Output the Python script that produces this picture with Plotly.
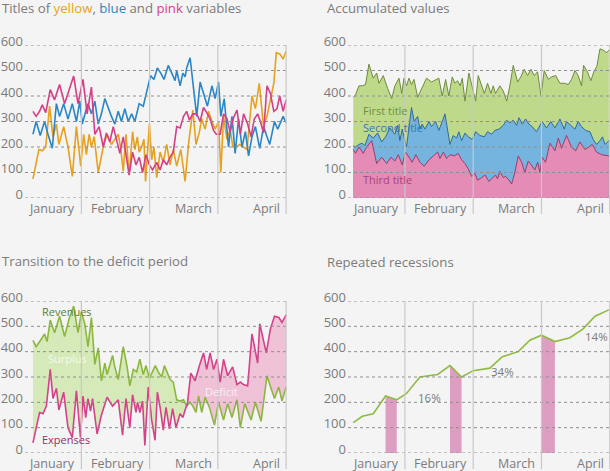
import numpy as np
import plotly.graph_objects as go

# ---------------- data ----------------
month_names = ["January", "February", "March", "April"]
month_ends = [30, 60, 90, 120]
y_ticks = [0, 100, 200, 300, 400, 500, 600]

# Chart 1: yellow, blue, pink variables (day, value)
yellow_days = [8.7, 11.3, 12.8, 14.3, 16.0, 17.5, 19.0, 20.1, 22.2, 24.1, 26.0, 27.8, 29.7, 31.0, 32.2, 33.4, 34.4, 35.6, 37.4, 39.6,
               41.3, 43.2, 44.7, 46.2, 47.2, 48.4, 49.6, 51.0, 52.5, 53.5, 54.6, 55.4, 56.5, 57.5, 58.2, 59.9, 60.9, 61.9, 63.1, 64.6,
               66.0, 67.5, 69.0, 70.4, 71.9, 73.7, 75.6, 77.2, 79.0, 80.4, 81.9, 82.9, 84.4, 85.9, 87.4, 88.8, 90.3, 91.3, 92.5, 94.0,
               95.4, 96.6, 98.1, 99.6, 101.3, 102.8, 105.0, 106.5, 108.2, 110.1, 111.6, 113.1, 114.6, 115.7, 117.2, 118.7, 120.0]
yellow_vals = [75, 190, 185, 200, 360, 240, 290, 210, 280, 200, 85, 280, 125, 250, 170, 250, 200, 240, 100, 200,
               250, 210, 230, 250, 200, 105, 250, 90, 260, 190, 240, 180, 200, 230, 65, 290, 150, 200, 80, 180,
               140, 210, 130, 190, 125, 190, 65, 220, 345, 210, 260, 310, 270, 340, 300, 270, 300, 100, 320, 230,
               270, 200, 200, 210, 200, 190, 400, 350, 450, 280, 320, 380, 450, 570, 565, 545, 575]
blue_days = [8.7, 10.1, 11.9, 13.8, 15.3, 17.2, 19.0, 20.4, 22.2, 24.1, 26.0, 27.8, 29.3, 30.4, 31.9, 32.9, 34.4, 35.9, 37.4, 38.8,
             40.3, 41.8, 43.2, 44.7, 46.2, 47.6, 49.1, 50.6, 52.1, 53.5, 55.4, 57.2, 58.7, 60.4, 61.9, 63.4, 64.9, 66.3, 68.2, 69.7,
             71.2, 71.9, 73.4, 74.6, 75.6, 76.3, 77.8, 79.3, 80.7, 82.2, 84.0, 85.4, 87.4, 88.8, 90.3, 91.3, 92.8, 94.7, 96.2, 97.6,
             99.1, 100.6, 102.1, 103.5, 105.0, 106.5, 108.4, 110.1, 111.6, 112.8, 114.9, 116.3, 118.7, 120.0]
blue_vals = [250, 300, 245, 300, 250, 195, 370, 320, 370, 310, 370, 300, 380, 290, 340, 370, 330, 380, 290, 330,
             390, 350, 320, 290, 340, 300, 350, 300, 330, 300, 370, 360, 420, 480, 465, 510, 490, 465, 520, 490,
             460, 500, 440, 490, 475, 510, 550, 430, 320, 455, 400, 360, 440, 390, 455, 320, 390, 200, 320, 175,
             310, 200, 260, 165, 240, 280, 195, 280, 240, 210, 300, 270, 320, 295]
pink_days = [8.7, 10.1, 11.6, 12.8, 14.3, 16.3, 18.2, 20.4, 22.6, 24.6, 26.6, 28.5, 30.7, 32.5, 34.4, 35.9, 37.8, 39.6, 41.0, 42.5,
             44.0, 45.4, 46.9, 48.4, 49.9, 51.0, 52.5, 54.0, 55.4, 56.9, 58.4, 59.9, 61.3, 63.1, 64.6, 66.0, 67.5, 69.0, 70.4, 71.9,
             73.4, 74.9, 76.3, 77.5, 79.0, 80.7, 82.2, 83.7, 85.1, 86.6, 88.1, 89.3, 91.0, 92.5, 94.0, 95.4, 96.9, 98.4, 99.9, 101.3,
             103.1, 104.6, 106.0, 107.5, 108.7, 110.1, 111.6, 113.1, 114.6, 116.0, 117.2, 118.7, 120.0]
pink_vals = [340, 320, 340, 365, 335, 425, 385, 445, 370, 420, 478, 370, 465, 330, 435, 250, 280, 200, 255, 220,
             280, 230, 175, 240, 160, 90, 180, 130, 160, 100, 170, 130, 110, 140, 110, 150, 130, 160, 180, 280,
             275, 320, 340, 305, 330, 330, 300, 355, 335, 310, 265, 250, 250, 330, 310, 260, 315, 345, 250, 330,
             290, 240, 310, 330, 300, 255, 440, 410, 340, 350, 400, 340, 385]

# Chart 2: accumulated values (cumulative totals)
first_days = [7.3, 8.3, 9.8, 11.3, 12.7, 14.2, 16.1, 17.6, 18.6, 20.5, 22.4, 24.2, 25.6, 27.4, 28.6, 29.6, 30.7, 31.8, 32.9, 34.0,
              35.6, 37.3, 39.5, 41.7, 43.5, 44.9, 46.4, 47.9, 49.3, 50.8, 52.0, 53.1, 54.3, 55.2, 56.4, 58.1, 60.0, 61.1, 62.2, 63.7,
              64.9, 66.3, 67.8, 68.8, 69.8, 71.7, 73.2, 74.7, 76.1, 77.6, 79.5, 80.9, 82.4, 83.9, 85.4, 86.8, 88.3, 89.8, 91.2, 93.0,
              94.4, 96.2, 98.1, 100.0, 101.8, 103.2, 104.7, 106.1, 107.6, 108.5, 110.2, 111.7, 113.2, 114.3, 115.7, 117.1, 118.6, 119.6]
first_total = [395, 405, 440, 440, 445, 525, 470, 490, 450, 480, 430, 390, 440, 470, 410, 470, 440, 470, 445, 465,
               395, 430, 470, 455, 465, 470, 400, 465, 400, 475, 450, 460, 440, 470, 380, 490, 420, 380, 480, 445,
               410, 450, 410, 440, 410, 440, 420, 380, 440, 520, 455, 475, 505, 480, 505, 480, 495, 400, 500, 465,
               475, 480, 450, 450, 445, 465, 500, 480, 440, 520, 495, 460, 500, 515, 585, 580, 570, 580]
second_days = [7.3, 8.3, 9.8, 11.3, 12.4, 14.2, 16.1, 18.0, 19.8, 21.5, 23.4, 25.6, 26.8, 27.8, 28.8, 30.7, 32.9, 34.1, 35.6, 36.6,
               37.6, 38.8, 40.6, 41.7, 43.5, 44.9, 46.4, 47.6, 49.8, 51.2, 52.7, 53.7, 54.9, 56.4, 57.8, 59.6, 61.1, 63.0, 64.9, 66.3,
               68.1, 69.5, 71.3, 73.2, 74.7, 76.1, 77.6, 79.1, 80.1, 81.6, 83.0, 84.5, 85.9, 87.8, 90.3, 92.2, 94.1, 95.9, 98.1, 100.0,
               101.0, 102.9, 104.7, 106.1, 107.6, 109.4, 111.3, 112.7, 114.2, 115.7, 116.8, 117.9, 119.6]
second_total = [205, 200, 210, 215, 205, 250, 235, 255, 220, 240, 275, 250, 285, 225, 270, 200, 355, 300, 320, 270,
                290, 270, 300, 280, 300, 265, 300, 330, 210, 245, 235, 260, 225, 255, 240, 230, 260, 245, 240, 260,
                250, 265, 270, 285, 305, 295, 305, 285, 315, 290, 310, 290, 280, 260, 300, 275, 300, 275, 310, 270,
                300, 285, 270, 300, 280, 265, 260, 230, 210, 225, 240, 210, 225]
third_days = [7.3, 8.3, 9.8, 11.7, 13.2, 15.4, 17.6, 19.8, 22.0, 23.9, 25.6, 27.1, 28.8, 30.3, 31.8, 33.2, 34.8, 36.6, 38.5, 40.6,
              42.5, 44.4, 45.4, 46.9, 48.3, 49.8, 51.7, 53.4, 54.9, 56.4, 57.8, 59.3, 60.8, 61.9, 63.7, 65.2, 66.9, 68.4, 69.8, 70.7,
              71.7, 73.2, 74.2, 75.7, 76.9, 78.3, 79.8, 81.3, 82.7, 84.2, 85.7, 87.1, 88.3, 89.3, 90.3, 91.8, 93.7, 94.7, 95.9, 97.4,
              98.8, 101.0, 103.2, 105.0, 106.9, 109.1, 110.8, 112.3, 114.2, 116.4, 119.6]
third_total = [190, 175, 200, 175, 200, 225, 135, 160, 135, 160, 145, 170, 130, 180, 160, 140, 170, 140, 125, 150,
               165, 180, 155, 180, 155, 170, 165, 175, 150, 135, 115, 85, 95, 70, 80, 90, 65, 80, 90, 75,
               105, 80, 85, 70, 55, 100, 165, 140, 100, 145, 125, 110, 140, 100, 160, 140, 215, 200, 185, 235,
               195, 245, 200, 185, 220, 190, 200, 210, 180, 170, 165]
stack_names = ["First title", "Second title", "Third title"]

# Chart 3: revenues vs expenses
rev_days = [8.7, 10.1, 12.4, 13.8, 14.9, 16.3, 18.2, 20.4, 22.6, 24.6, 26.6, 28.5, 30.0, 31.5, 32.9, 34.4, 35.9, 37.4, 38.8, 40.3,
            41.3, 43.7, 44.7, 46.2, 48.4, 50.1, 51.3, 52.8, 54.3, 55.7, 57.2, 58.4, 59.9, 61.3, 62.5, 63.8, 65.3, 66.5, 67.9, 69.0,
            70.4, 71.9, 73.4, 74.9, 76.3, 77.8, 79.0, 80.4, 81.5, 82.9, 84.4, 86.3, 88.5, 90.3, 92.5, 94.3, 96.2, 98.4, 99.9, 101.8,
            104.6, 106.5, 109.0, 111.6, 113.4, 114.9, 116.8, 118.2, 120.0]
rev_vals = [445, 420, 450, 470, 440, 525, 475, 540, 460, 530, 580, 475, 555, 510, 420, 535, 350, 415, 285, 355,
            310, 385, 340, 290, 420, 340, 265, 330, 320, 370, 310, 345, 295, 325, 345, 320, 300, 345, 310, 290,
            280, 210, 205, 210, 185, 200, 185, 160, 225, 160, 220, 180, 110, 200, 130, 195, 140, 210, 100, 195,
            130, 200, 125, 305, 255, 215, 260, 205, 260]
exp_days = [8.7, 10.1, 11.6, 13.1, 14.6, 16.3, 17.5, 19.0, 20.1, 22.2, 24.1, 26.0, 27.8, 29.6, 30.7, 31.9, 32.9, 34.0, 34.9, 36.9,
            38.8, 41.3, 43.7, 46.2, 48.1, 49.6, 51.3, 52.5, 54.0, 54.7, 55.7, 56.9, 57.9, 59.4, 60.9, 62.4, 63.4, 64.6, 66.0, 67.2,
            68.7, 70.1, 71.6, 73.4, 74.6, 75.6, 76.6, 78.1, 80.0, 81.9, 83.7, 85.1, 86.6, 88.1, 89.6, 91.0, 92.5, 94.3, 96.5, 98.4,
            99.9, 101.3, 103.1, 105.0, 107.5, 108.4, 111.3, 113.1, 114.9, 116.8, 118.2, 120.0]
exp_vals = [40, 100, 160, 155, 185, 330, 215, 255, 170, 240, 100, 60, 245, 60, 225, 140, 215, 165, 215, 75,
            150, 220, 185, 210, 70, 215, 100, 230, 160, 200, 160, 205, 30, 260, 130, 50, 240, 180, 90, 180,
            95, 175, 100, 155, 140, 170, 195, 315, 285, 345, 395, 330, 395, 330, 370, 280, 370, 305, 340, 270,
            280, 270, 265, 470, 355, 510, 395, 490, 540, 535, 515, 545]

# Chart 4: repeated recessions
trend_days = [7.3, 11.3, 16.1, 21.5, 26.4, 30.7, 36.6, 44.4, 49.8, 54.9, 60.0, 67.3, 72.8, 79.8, 84.9, 90.0, 95.9, 102.5, 108.3, 113.5, 119.6]
trend_vals = [120, 145, 155, 225, 210, 235, 300, 310, 345, 300, 325, 335, 380, 400, 445, 465, 440, 455, 490, 540, 565]
recession_idx = [(3, 4), (8, 9), (15, 16)]
pct_labels = ["16%", "34%", "14%"]
pct_pos = [(41, 221), (73, 320), (114, 458)]

# ---------------- styling / layout ----------------
W, H = 610, 471
BG = "#f4f4f4"
GRAY = "#7b7b7b"
FONT = "Open Sans"


def py(p):
    return 1 - p / H


def px(p):
    return p / W


top_dom = [py(198), py(45)]
bot_dom = [py(453), py(301)]
left_dom = [px(25), px(287)]
right_dom = [px(348), 1.0]
left_rng = [5.2, 120.4]
right_rng = [5.0, 120.1]

panels = [
    ("x", "y", left_dom, top_dom, left_rng),
    ("x2", "y2", right_dom, top_dom, right_rng),
    ("x3", "y3", left_dom, bot_dom, left_rng),
    ("x4", "y4", right_dom, bot_dom, right_rng),
]

fig = go.Figure()

# Chart 1 lines
for d, v, c in [(yellow_days, yellow_vals, "#e6a11e"), (blue_days, blue_vals, "#2a86c4"), (pink_days, pink_vals, "#d43f88")]:
    fig.add_trace(go.Scatter(x=d, y=v, mode="lines", line=dict(color=c, width=1.6), xaxis="x", yaxis="y"))

# Chart 2 accumulated areas (drawn back to front)
for d, v, fc, lc in [(first_days, first_total, "#bfd98b", "#6f8b3e"),
                     (second_days, second_total, "#74b4df", "#2f6b99"),
                     (third_days, third_total, "#e48bb6", "#9c3c6a")]:
    fig.add_trace(go.Scatter(x=d, y=v, mode="lines", fill="tozeroy", fillcolor=fc,
                             line=dict(color=lc, width=1), xaxis="x2", yaxis="y2"))

# Chart 3 surplus / deficit
grid = np.linspace(70, 85, 1501)
diff = np.interp(grid, rev_days, rev_vals) - np.interp(grid, exp_days, exp_vals)
split = float(grid[np.argmax(diff <= 0)])
split_val = float(np.interp(split, rev_days, rev_vals))


def seg(days, vals, before):
    d = np.array(days)
    v = np.array(vals)
    m = d < split if before else d > split
    if before:
        return list(d[m]) + [split], list(v[m]) + [split_val]
    return [split] + list(d[m]), [split_val] + list(v[m])


ex1, ey1 = seg(exp_days, exp_vals, True)
rx1, ry1 = seg(rev_days, rev_vals, True)
rx2, ry2 = seg(rev_days, rev_vals, False)
ex2, ey2 = seg(exp_days, exp_vals, False)
fig.add_trace(go.Scatter(x=ex1, y=ey1, mode="lines", line=dict(width=0), xaxis="x3", yaxis="y3"))
fig.add_trace(go.Scatter(x=rx1, y=ry1, mode="lines", line=dict(width=0), fill="tonexty",
                         fillcolor="#d6e9b8", xaxis="x3", yaxis="y3"))
fig.add_trace(go.Scatter(x=rx2, y=ry2, mode="lines", line=dict(width=0), xaxis="x3", yaxis="y3"))
fig.add_trace(go.Scatter(x=ex2, y=ey2, mode="lines", line=dict(width=0), fill="tonexty",
                         fillcolor="#efc2d8", xaxis="x3", yaxis="y3"))
fig.add_trace(go.Scatter(x=rev_days, y=rev_vals, mode="lines", line=dict(color="#8cb73f", width=1.6), xaxis="x3", yaxis="y3"))
fig.add_trace(go.Scatter(x=exp_days, y=exp_vals, mode="lines", line=dict(color="#d4428a", width=1.6), xaxis="x3", yaxis="y3"))

# Chart 4 recession bars + trend line
for a, b in recession_idx:
    fig.add_trace(go.Scatter(x=[trend_days[a], trend_days[b]], y=[trend_vals[a], trend_vals[b]], mode="lines",
                             line=dict(width=0), fill="tozeroy", fillcolor="#dd9ec1", xaxis="x4", yaxis="y4"))
fig.add_trace(go.Scatter(x=trend_days, y=trend_vals, mode="lines", line=dict(color="#8fbb40", width=1.6),
                         xaxis="x4", yaxis="y4"))

layout = dict(width=W, height=H, margin=dict(l=0, r=0, t=0, b=0, autoexpand=False), paper_bgcolor=BG,
              plot_bgcolor=BG, showlegend=False, font=dict(family=FONT, color=GRAY))
shapes = []
annotations = []
for i, (xa, ya, xd, yd, xr) in enumerate(panels):
    sx = "" if i == 0 else str(i + 1)
    layout["xaxis" + sx] = dict(domain=xd, range=xr, showgrid=False, zeroline=False, showticklabels=False,
                                showline=False, anchor=ya, fixedrange=True, automargin=False)
    layout["yaxis" + sx] = dict(domain=yd, range=[0, 600], showgrid=False, zeroline=False, tickvals=y_ticks,
                                tickfont=dict(size=13, color=GRAY, family=FONT), ticklabelshift=-4,
                                ticklabelstandoff=1, anchor=xa, fixedrange=True, automargin=False)
    for t in y_ticks:
        shapes.append(dict(type="line", xref=xa + " domain", x0=0, x1=1, yref=ya, y0=t, y1=t, layer="above",
                           line=dict(color="#8e8e8e", width=1, dash="dot")))
    for m in month_ends:
        shapes.append(dict(type="line", xref=xa, x0=m, x1=m, yref="paper", y0=yd[0] - 16 / H, y1=yd[1],
                           layer="above", line=dict(color="#c8c8c8", width=1.2)))
    for name, m in zip(month_names, month_ends):
        annotations.append(dict(x=m - 1.8, xref=xa, y=yd[0] - 10 / H, yref="paper", text=name, showarrow=False,
                                xanchor="right", yanchor="middle", font=dict(size=12.5, color=GRAY, family=FONT)))

# titles
tfont = dict(size=13.2, color=GRAY, family=FONT)
annotations += [
    dict(x=0, y=py(8.5), xref="paper", yref="paper", xanchor="left", yanchor="middle", showarrow=False, font=tfont,
         text='Titles of <span style="color:#e8a31a">yellow</span>, <span style="color:#2a86c4">blue</span> and '
              '<span style="color:#d43f88">pink</span> variables'),
    dict(x=px(325), y=py(8.5), xref="paper", yref="paper", xanchor="left", yanchor="middle", showarrow=False,
         font=tfont, text="Accumulated values"),
    dict(x=0, y=py(261), xref="paper", yref="paper", xanchor="left", yanchor="middle", showarrow=False,
         font=tfont, text="Transition to the deficit period"),
    dict(x=px(325), y=py(262), xref="paper", yref="paper", xanchor="left", yanchor="middle", showarrow=False,
         font=tfont, text="Repeated recessions"),
]
# stacked labels
for name, yv, col in zip(stack_names, [345, 275, 71], ["#6f8f3c", "#3a78ab", "#a8457a"]):
    annotations.append(dict(x=10.7, y=yv, xref="x2", yref="y2", text=name, showarrow=False, xanchor="left",
                            yanchor="middle", font=dict(size=11, color=col, family=FONT)))
# revenue / expense labels
annotations += [
    dict(x=11.8, y=560, xref="x3", yref="y3", text="Revenues", showarrow=False, xanchor="left",
         font=dict(size=11, color="#5e7d2b", family=FONT)),
    dict(x=11.8, y=55, xref="x3", yref="y3", text="Expenses", showarrow=False, xanchor="left",
         font=dict(size=11, color="#a0295f", family=FONT)),
    dict(x=23.7, y=375, xref="x3", yref="y3", text="Surplus", showarrow=False,
         font=dict(size=11, color="rgba(255,255,255,0.75)", family=FONT)),
    dict(x=91.8, y=241, xref="x3", yref="y3", text="Deficit", showarrow=False,
         font=dict(size=11, color="rgba(255,255,255,0.75)", family=FONT)),
]
for lab, (dx, dy) in zip(pct_labels, pct_pos):
    annotations.append(dict(x=dx, y=dy, xref="x4", yref="y4", text=lab, showarrow=False,
                            font=dict(size=11.5, color=GRAY, family=FONT)))

layout["shapes"] = shapes
layout["annotations"] = annotations
fig.update_layout(**layout)
fig.write_html("out.html", config={"displayModeBar": False},
               post_script="document.body.style.margin='0px';document.body.style.background='%s';" % BG)
